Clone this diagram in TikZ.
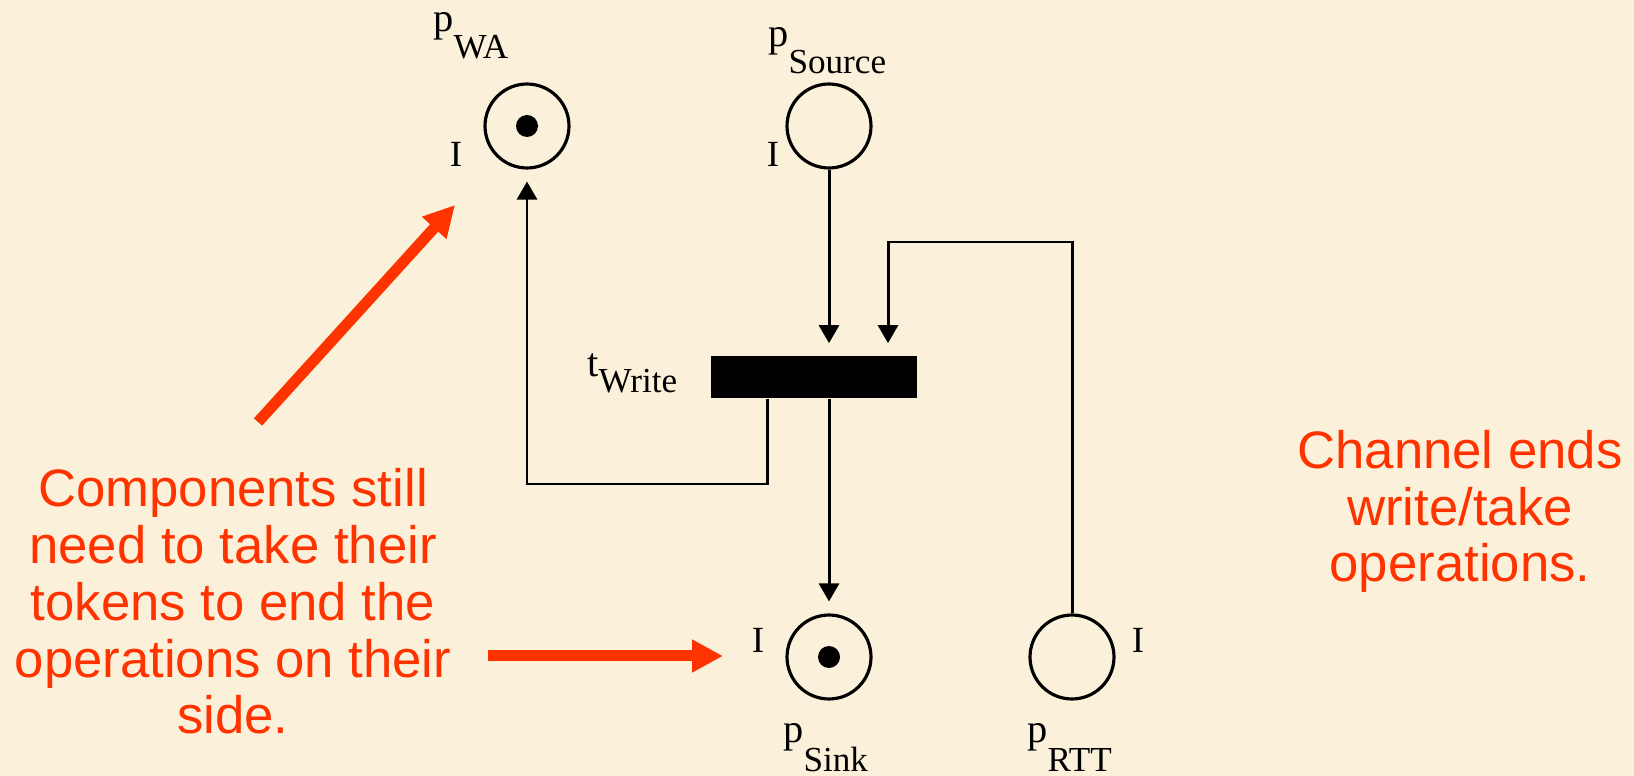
\documentclass[tikz,border=0pt]{standalone}
\usepackage{fontspec}
\setmainfont{Liberation Serif}
\newfontfamily\notefont{Liberation Sans}
\usetikzlibrary{arrows.meta,positioning,calc}
\definecolor{paper}{RGB}{251,241,218}
\definecolor{notered}{RGB}{255,51,0}
\newcommand{\pnlab}[3]{{\fontsize{23}{26}\selectfont #1}\raisebox{#3}{\fontsize{20}{22}\selectfont #2}}

\begin{document}
\begin{tikzpicture}[
    x=0.02cm, y=-0.02cm,
    place/.style={draw, circle, line width=1.8pt, minimum size=1.68cm, inner sep=0pt},
    trans/.style={fill=black, minimum width=4.14cm, minimum height=0.86cm, inner sep=0pt},
    token/.style={fill=black, circle, minimum size=0.44cm, inner sep=0pt},
    lbl/.style={font=\fontsize{21}{24}\selectfont, inner sep=0pt},
    arc/.style={line width=1.7pt, -{Triangle[length=0.36cm, width=0.4cm]}, shorten >=0.24cm},
    note/.style={text=notered, font=\notefont\fontsize{30}{32.4}\selectfont, align=center, inner sep=0pt},
    hint/.style={draw=notered, line width=0.22cm, -{Triangle[length=0.62cm, width=0.62cm]}}
]
\fill[paper] (0,0) rectangle (1634,776);

% places and transition
\node[place] (pWA) at (527,126) {};
\node[token] (tokWA) at (pWA) {};
\node[place] (pSource) at (829,126) {};
\node[trans] (tWrite) at (814,377) {};
\node[place] (pSink) at (829,657) {};
\node[token] (tokSink) at (pSink) {};
\node[place] (pRTT) at (1072,657) {};

% labels
\node[lbl, anchor=base west] (lWA) at (433,32) {\pnlab{p}{WA}{-15pt}};
\node[lbl, anchor=base west] (lSource) at (768,47) {\pnlab{p}{Source}{-15pt}};
\node[lbl, anchor=base west] (lWrite) at (587,377) {\pnlab{t}{Write}{-9pt}};
\node[lbl, anchor=base west] (lSink) at (783,743) {\pnlab{p}{Sink}{-16pt}};
\node[lbl, anchor=base west] (lRTT) at (1027,743) {\pnlab{p}{RTT}{-16pt}};
\node[lbl] (iWA) at (456,154) {I};
\node[lbl] (iSource) at (773,154) {I};
\node[lbl] (iSink) at (758,640) {I};
\node[lbl] (iRTT) at (1138,640) {I};

% arcs
\coordinate (rttbend) at (888,242);
\coordinate (wabend) at (767,484);
\draw[arc] (pSource.south) -- (pSource |- tWrite.north);
\draw[arc] (pRTT.north) |- (rttbend) -- (rttbend |- tWrite.north);
\draw[arc] (wabend |- tWrite.south) -- (wabend) -| (pWA.south);
\draw[arc] (pSink |- tWrite.south) -- (pSink.north);

% notes
\node[note, anchor=base] (leftnote) at (233,734) {Components still\\need to take their\\tokens to end the\\operations on their\\side.};
\node[note, anchor=base] (rightnote) at (1460,582) {Channel ends\\write/take\\operations.};
\coordinate (hintWAfrom) at (258,422);
\coordinate (hintWAto) at (455,205);
\coordinate (hintSinkfrom) at (488,656);
\coordinate (hintSinkto) at (723,656);
\draw[hint] (hintWAfrom) -- (hintWAto);
\draw[hint] (hintSinkfrom) -- (hintSinkto);
\end{tikzpicture}
\end{document}
